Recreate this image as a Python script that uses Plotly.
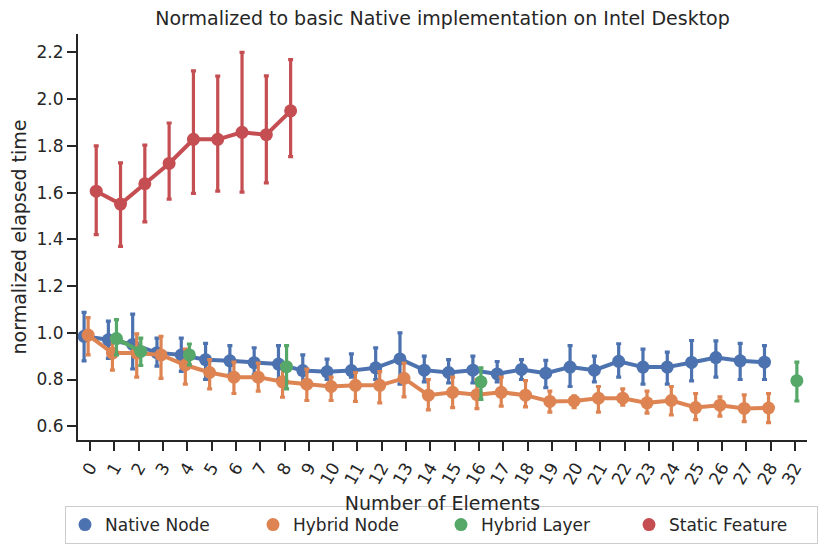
import plotly.graph_objects as go

categories = [str(i) for i in range(29)] + ["32"]

native_mean = [0.985, 0.97, 0.95, 0.915, 0.905, 0.885, 0.88, 0.872, 0.866, 0.838,
               0.833, 0.838, 0.85, 0.888, 0.84, 0.83, 0.84, 0.824, 0.843, 0.827,
               0.853, 0.84, 0.878, 0.853, 0.853, 0.873, 0.894, 0.88, 0.874, None]
native_low = [0.88, 0.89, 0.845, 0.857, 0.835, 0.80, 0.82, 0.82, 0.80, 0.78,
              0.80, 0.81, 0.80, 0.78, 0.79, 0.785, 0.785, 0.79, 0.80, 0.765,
              0.77, 0.79, 0.81, 0.78, 0.78, 0.794, 0.81, 0.80, 0.80, None]
native_high = [1.087, 1.05, 1.08, 0.977, 0.977, 0.955, 0.945, 0.936, 0.945, 0.905,
               0.887, 0.91, 0.935, 1.0, 0.90, 0.885, 0.90, 0.877, 0.885, 0.882,
               0.945, 0.90, 0.953, 0.93, 0.917, 0.967, 0.965, 0.955, 0.945, None]

hnode_mean = [0.99, 0.913, 0.913, 0.905, 0.862, 0.83, 0.81, 0.81, 0.79, 0.78,
              0.77, 0.775, 0.775, 0.805, 0.733, 0.745, 0.735, 0.745, 0.733, 0.706,
              0.708, 0.72, 0.72, 0.70, 0.71, 0.68, 0.69, 0.676, 0.678, None]
hnode_low = [0.905, 0.84, 0.81, 0.805, 0.78, 0.76, 0.74, 0.75, 0.724, 0.71,
             0.71, 0.706, 0.70, 0.726, 0.67, 0.68, 0.675, 0.686, 0.683, 0.66,
             0.68, 0.66, 0.69, 0.656, 0.648, 0.628, 0.643, 0.62, 0.615, None]
hnode_high = [1.065, 0.977, 0.995, 0.985, 0.93, 0.885, 0.874, 0.87, 0.86, 0.844,
              0.81, 0.83, 0.834, 0.87, 0.80, 0.81, 0.80, 0.81, 0.795, 0.75,
              0.73, 0.77, 0.76, 0.75, 0.77, 0.74, 0.726, 0.734, 0.74, None]

N = None
hlayer_mean = [N, 0.975, 0.92, N, 0.905, N, N, N, 0.855, N,
               N, N, N, N, N, N, 0.79, N, N, N,
               N, N, N, N, N, N, N, N, N, 0.795]
hlayer_low = [N, 0.905, 0.86, N, 0.862, N, N, N, 0.76, N,
              N, N, N, N, N, N, 0.715, N, N, N,
              N, N, N, N, N, N, N, N, N, 0.708]
hlayer_high = [N, 1.056, 0.977, N, 0.952, N, N, N, 0.945, N,
               N, N, N, N, N, N, 0.85, N, N, N,
               N, N, N, N, N, N, N, N, N, 0.874]

static_mean = [1.606, 1.551, 1.638, 1.725, 1.828, 1.828, 1.858, 1.848, 1.95] + [N] * 21
static_low = [1.42, 1.37, 1.475, 1.572, 1.597, 1.606, 1.602, 1.642, 1.754] + [N] * 21
static_high = [1.80, 1.727, 1.803, 1.898, 2.121, 2.099, 2.200, 2.100, 2.169] + [N] * 21

series = [
    ("Native Node", native_mean, native_low, native_high, "#4C72B0", -0.25),
    ("Hybrid Node", hnode_mean, hnode_low, hnode_high, "#DD8452", -0.0833),
    ("Hybrid Layer", hlayer_mean, hlayer_low, hlayer_high, "#55A868", 0.0833),
    ("Static Feature", static_mean, static_low, static_high, "#C44E52", 0.25),
]

fig = go.Figure()
for name, mean, low, high, color, off in series:
    xs = [i + off for i in range(len(categories))]
    plus = [h - m if m is not None else None for m, h in zip(mean, high)]
    minus = [m - l if m is not None else None for m, l in zip(mean, low)]
    fig.add_trace(go.Scatter(
        x=xs, y=mean, mode="lines", connectgaps=False,
        line=dict(color=color, width=4), showlegend=False, hoverinfo="skip",
        legendgroup=name))
    fig.add_trace(go.Scatter(
        x=xs, y=mean, mode="markers", name=name, legendgroup=name,
        marker=dict(color=color, size=13),
        error_y=dict(type="data", symmetric=False, array=plus, arrayminus=minus,
                     color=color, thickness=3.2, width=2.5)))

ink = "#262626"
W, H = 831, 548
fig.update_layout(
    width=W, height=H,
    margin=dict(l=70, r=32, t=26, b=116, autoexpand=False),
    paper_bgcolor="white", plot_bgcolor="white",
    font=dict(family="DejaVu Sans", color=ink, size=17),
    title=dict(text="Normalized to basic Native implementation on Intel Desktop",
               x=0.5, xref="paper", xanchor="center", y=1 - 10 / H, yanchor="middle",
               yref="container", font=dict(size=19, color=ink)),
    xaxis=dict(range=[-0.5, 29.5], tickmode="array",
               tickvals=list(range(len(categories))), ticktext=categories,
               tickangle=-60, showgrid=False, zeroline=False,
               showline=True, linecolor=ink, linewidth=2,
               ticks="outside", ticklen=9, tickwidth=1.9, tickcolor=ink,
               tickfont=dict(size=17),
               title=dict(text="Number of Elements", font=dict(size=19), standoff=10)),
    yaxis=dict(range=[0.541, 2.279], dtick=0.2, tick0=0, tickformat=".1f",
               showgrid=False, zeroline=False,
               showline=True, linecolor=ink, linewidth=2,
               ticks="outside", ticklen=9, tickwidth=1.9, tickcolor=ink,
               tickfont=dict(size=17),
               title=dict(text="normalized elapsed time", font=dict(size=19), standoff=11)),
    legend=dict(orientation="h", xref="paper", yref="paper",
                x=-13 / 729, xanchor="left", y=-66 / 406, yanchor="top",
                bordercolor="#cccccc", borderwidth=1, bgcolor="white",
                font=dict(size=17), entrywidth=143, entrywidthmode="pixels"),
)

fig.write_html("out.html")
